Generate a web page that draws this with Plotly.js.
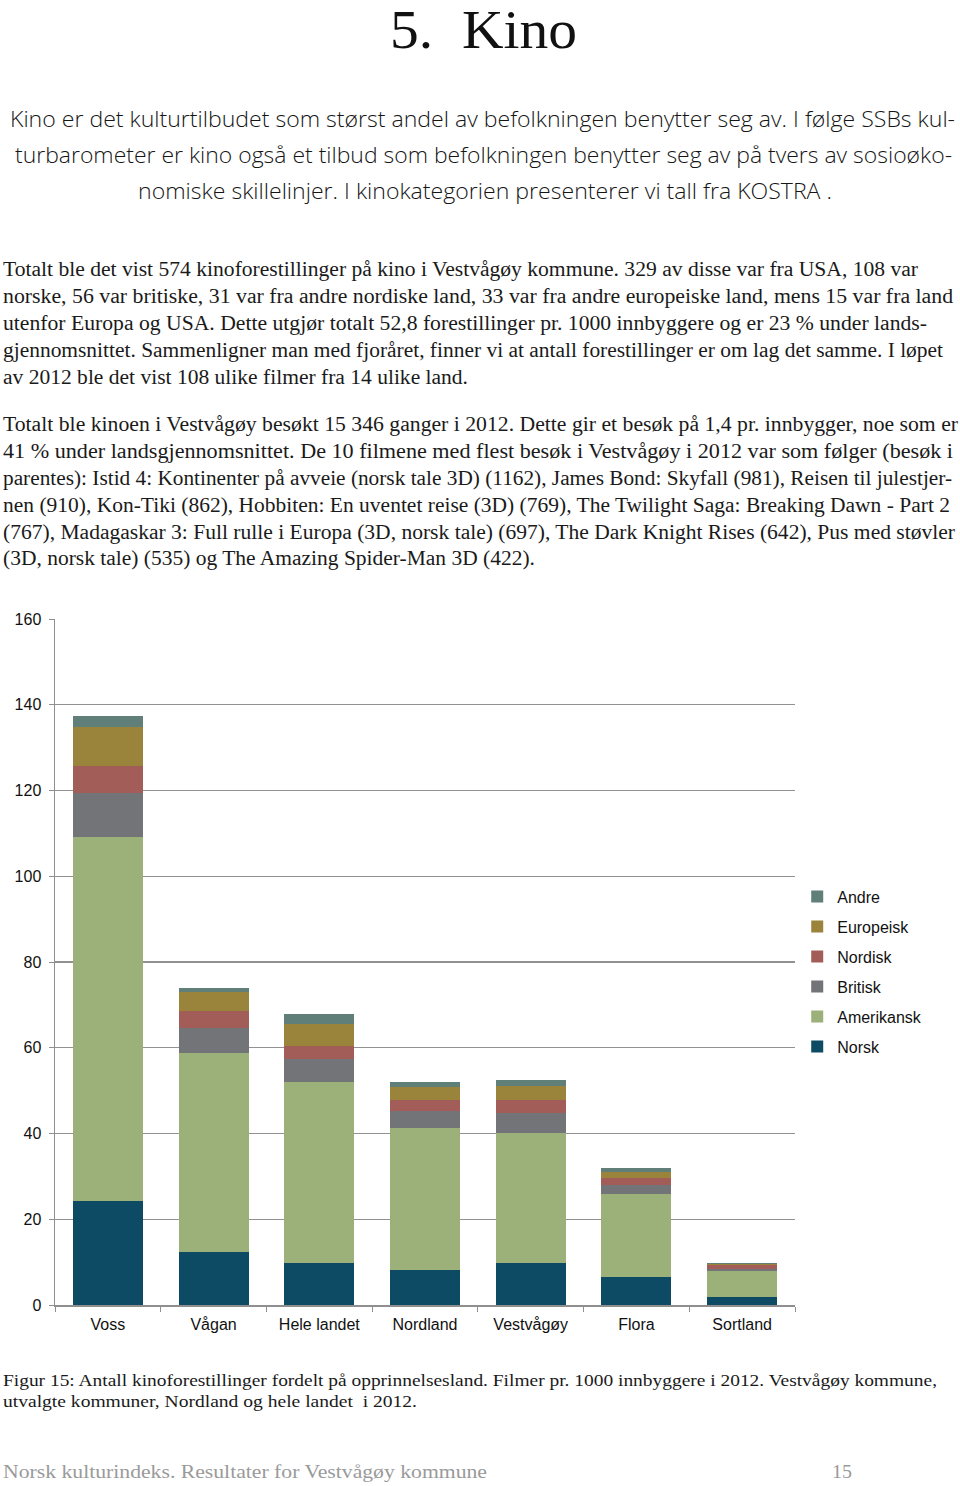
<!DOCTYPE html>
<html>
<head>
<meta charset="utf-8">
<script src="https://cdn.plot.ly/plotly-3.0.1.min.js"></script>
<style>
  html, body { margin:0; padding:0; background:#fff; }
  #page { position:relative; width:960px; height:1486px; overflow:hidden; }
  .ln { position:absolute; white-space:pre; transform-origin:0 0; display:inline-block; }
  .title { font-family:"Liberation Serif", serif; font-size:55px; color:#111; line-height:60px; }
  .intro { font-family:"Open Sans", sans-serif; font-size:22px; font-weight:300; color:#151515; line-height:28px; }
  .body { font-family:"Liberation Serif", serif; font-size:20px; color:#1a1a1a; line-height:24px; }
  .cap { font-family:"Liberation Serif", serif; font-size:17.5px; color:#1a1a1a; line-height:21px; }
  .foot { font-family:"Liberation Serif", serif; font-size:19.5px; color:#9a9a9a; line-height:24px; }
  #chart { position:absolute; left:0; top:600px; width:960px; height:760px; }
</style>
</head>
<body>
<div id="page">
  <div id="chart"></div>
</div>
<script>
// ---- chart data ----
const categories = ['Voss', 'Vågan', 'Hele landet', 'Nordland', 'Vestvågøy', 'Flora', 'Sortland'];
const norsk      = [24.3, 12.4,  9.8,  8.2,  9.8,  6.6, 1.9];
const amerikansk = [84.8, 46.3, 42.1, 33.2, 30.4, 19.4, 6.1];
const britisk    = [10.4,  5.8,  5.4,  3.9,  4.5,  1.9, 0.3];
const nordisk    = [ 6.3,  4.0,  3.0,  2.4,  3.2,  1.7, 1.1];
const europeisk  = [ 9.0,  4.4,  5.2,  3.1,  3.1,  1.4, 0.2];
const andre      = [ 2.6,  1.0,  2.3,  1.1,  1.4,  0.9, 0.3];
const seriesNames = ['Norsk', 'Amerikansk', 'Britisk', 'Nordisk', 'Europeisk', 'Andre'];
const yTickVals = [0, 20, 40, 60, 80, 100, 120, 140, 160];

const seriesValues = [norsk, amerikansk, britisk, nordisk, europeisk, andre];
const seriesColors = ['#0d4a64', '#9cb07a', '#737478', '#a35d59', '#9a843c', '#5f7f78'];

const traces = seriesNames.map((name, i) => ({
  type: 'bar',
  name: name,
  x: categories,
  y: seriesValues[i],
  legendgroup: name,
  legendrank: 100 - i,
  marker: { color: seriesColors[i], line: { width: 0 } },
  hoverinfo: 'none'
}));

const axisFont = { family: '"Liberation Sans", Arial, sans-serif', size: 16, color: '#111' };

const layout = {
  width: 960, height: 760,
  margin: { l: 55, r: 165, t: 19, b: 55, pad: 0 },
  paper_bgcolor: 'rgba(0,0,0,0)',
  plot_bgcolor: 'rgba(0,0,0,0)',
  barmode: 'stack',
  bargap: 0.338,
  showlegend: true,
  legend: {
    x: 1.003, xanchor: 'left', y: 0.62, yanchor: 'top',
    traceorder: 'grouped', tracegroupgap: 6.2,
    font: axisFont, bgcolor: 'rgba(0,0,0,0)', borderwidth: 0
  },
  xaxis: {
    type: 'category', tickfont: axisFont,
    showline: true, linecolor: '#8f8f8f', linewidth: 1.5,
    ticks: 'outside', tickson: 'boundaries', ticklen: 5, tickcolor: '#8f8f8f', tickwidth: 1,
    ticklabelstandoff: 4,
    showgrid: false, fixedrange: true
  },
  yaxis: {
    range: [0, 160], tickvals: yTickVals, tickfont: axisFont,
    showline: true, linecolor: '#8f8f8f', linewidth: 1.5,
    ticks: 'outside', ticklen: 5, tickcolor: '#8f8f8f',
    ticklabelstandoff: 4,
    showgrid: true, gridcolor: '#919191', gridwidth: 1.2,
    zeroline: false, fixedrange: true
  },
  font: axisFont
};

Plotly.newPlot('chart', traces, layout, { staticPlot: true, displayModeBar: false });

// ---- page text (each line: text, left x, baseline y, target width) ----
const textLines = [
  ['title', '5.\u00a0 Kino', 390, 44, 187],
  ['intro', 'Kino er det kulturtilbudet som størst andel av befolkningen benytter seg av. I følge SSBs kul-', 10, 125, 945],
  ['intro', 'turbarometer er kino også et tilbud som befolkningen benytter seg av på tvers av sosioøko-', 15, 161, 937],
  ['intro', 'nomiske skillelinjer. I kinokategorien presenterer vi tall fra KOSTRA .', 138, 197, 694],
  ['body', 'Totalt ble det vist 574 kinoforestillinger på kino i Vestvågøy kommune. 329 av disse var fra USA, 108 var', 3, 275, 915],
  ['body', 'norske, 56 var britiske, 31 var fra andre nordiske land, 33 var fra andre europeiske land, mens 15 var fra land', 3, 302, 950],
  ['body', 'utenfor Europa og USA. Dette utgjør totalt 52,8 forestillinger pr. 1000 innbyggere og er 23 % under lands-', 3, 329, 924],
  ['body', 'gjennomsnittet. Sammenligner man med fjoråret, finner vi at antall forestillinger er om lag det samme. I løpet', 3, 356, 940],
  ['body', 'av 2012 ble det vist 108 ulike filmer fra 14 ulike land.', 3, 383, 465],
  ['body', 'Totalt ble kinoen i Vestvågøy besøkt 15 346 ganger i 2012. Dette gir et besøk på 1,4 pr. innbygger, noe som er', 3, 430, 955],
  ['body', '41 % under landsgjennomsnittet. De 10 filmene med flest besøk i Vestvågøy i 2012 var som følger (besøk i', 3, 457, 950],
  ['body', 'parentes): Istid 4: Kontinenter på avveie (norsk tale 3D) (1162), James Bond: Skyfall (981), Reisen til julestjer-', 3, 484, 949],
  ['body', 'nen (910), Kon-Tiki (862), Hobbiten: En uventet reise (3D) (769), The Twilight Saga: Breaking Dawn - Part 2', 3, 511, 947],
  ['body', '(767), Madagaskar 3: Full rulle i Europa (3D, norsk tale) (697), The Dark Knight Rises (642), Pus med støvler', 3, 538, 952],
  ['body', '(3D, norsk tale) (535) og The Amazing Spider-Man 3D (422).', 3, 564, 532],
  ['cap', 'Figur 15: Antall kinoforestillinger fordelt på opprinnelsesland. Filmer pr. 1000 innbyggere i 2012. Vestvågøy kommune,', 3, 1386, 934],
  ['cap', 'utvalgte kommuner, Nordland og hele landet  i 2012.', 3, 1407, 414],
  ['foot', 'Norsk kulturindeks. Resultater for Vestvågøy kommune', 3, 1478, 484],
  ['foot', '15', 832, 1478, 20]
];

const page = document.getElementById('page');
textLines.forEach(([cls, txt, x, base, w]) => {
  const el = document.createElement('span');
  el.className = 'ln ' + cls;
  el.textContent = txt;
  page.appendChild(el);
  const cs = getComputedStyle(el);
  const fs = parseFloat(cs.fontSize), lh = parseFloat(cs.lineHeight);
  el.style.left = x + 'px';
  el.style.top = Math.max(0, base - (lh / 2 + 0.3 * fs)) + 'px';
  const nat = el.getBoundingClientRect().width;
  if (nat > 0) el.style.transform = 'scaleX(' + (w / nat).toFixed(4) + ')';
});
</script>
</body>
</html>
